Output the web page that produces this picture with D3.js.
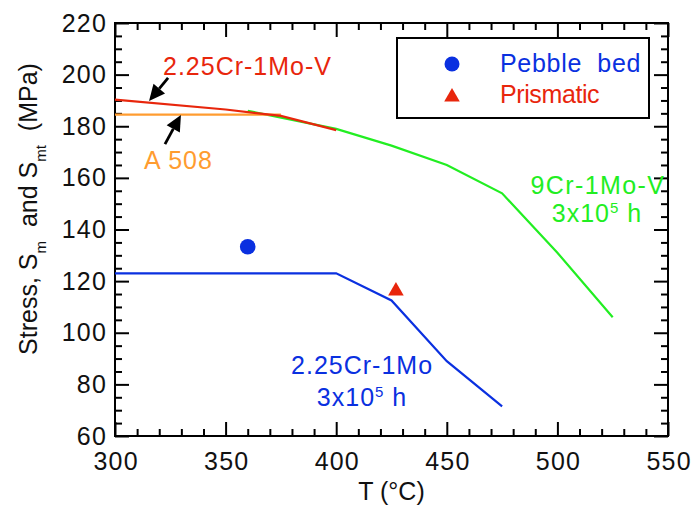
<!DOCTYPE html>
<html><head><meta charset="utf-8">
<script src="https://cdn.jsdelivr.net/npm/d3@7"></script>
<style>body{margin:0;background:#fff}svg{display:block;font-family:"Liberation Sans",Arial,sans-serif}</style>
</head><body>
<svg id="c" width="691" height="510"></svg>
<script>
// ---- data ----
const xTickValues = [300, 350, 400, 450, 500, 550];
const yTickValues = [60, 80, 100, 120, 140, 160, 180, 200, 220];
const cr1moT = [300, 400, 425, 450, 475];
const cr1moS = [123, 123, 112.5, 89, 71.5];
const cr1moVT = [300, 350, 375, 400];
const cr1moVS = [190.3, 186.5, 184, 178.5];
const cr9T = [360, 400, 425, 450, 475, 500, 525];
const cr9S = [186, 179, 172.5, 165, 154, 131, 106];
const a508T = [300, 375];
const a508S = [184.5, 184.5];
const pebbleT = [360];
const pebbleS = [133.3];
const prismT = [427];
const prismS = [116.6];

const BLUE = "#0a30e0", RED = "#e8260c", GREEN = "#22ee22", ORANGE = "#ff9c30";
const FS = 25;

const svg = d3.select("#c");
const L = 115, R = 668, T = 23, B = 436;
const x = d3.scaleLinear().domain([300, 550]).range([L, R]);
const y = d3.scaleLinear().domain([60, 220]).range([B, T]);

// axes with inward ticks (all four sides)
const xMinor = d3.range(300, 551, 10).filter(v => v % 50 !== 0);
const yMinor = d3.range(60, 221, 5).filter(v => v % 20 !== 0);
const g = svg.append("g");
function addAxis(axisFn, scale, transform, major, minor, showLabels) {
  const a1 = g.append("g").attr("transform", transform)
    .call(axisFn(scale).tickValues(minor).tickSize(-7).tickFormat(""));
  const a2 = g.append("g").attr("transform", transform)
    .call(axisFn(scale).tickValues(major).tickSize(-14).tickPadding(showLabels ? 20 : 0)
      .tickFormat(showLabels ? d3.format("d") : ""));
  [a1, a2].forEach(a => {
    a.select(".domain").remove();
    a.selectAll(".tick line").attr("stroke", "#000").attr("stroke-width", 2);
    a.selectAll("text").attr("font-size", FS).attr("fill", "#111")
      .attr("letter-spacing", 1.2)
      .attr("font-family", "'Liberation Sans',Arial,sans-serif");
  });
  return a2;
}
const ax = addAxis(d3.axisBottom, x, `translate(0,${B})`, xTickValues, xMinor, true);
ax.selectAll("text").attr("dy", "0.71em").attr("y", 16).attr("dx", 0.6);
addAxis(d3.axisTop, x, `translate(0,${T})`, xTickValues, xMinor, false);
const ay = addAxis(d3.axisLeft, y, `translate(${L},0)`, yTickValues, yMinor, true);
ay.selectAll("text").attr("x", -8);
addAxis(d3.axisRight, y, `translate(${R},0)`, yTickValues, yMinor, false);
g.append("rect").attr("x", L).attr("y", T).attr("width", R - L).attr("height", B - T)
  .attr("fill", "none").attr("stroke", "#000").attr("stroke-width", 2);

// lines
const line = d3.line().x(d => x(d[0])).y(d => y(d[1]));
function drawLine(ts, ss, color) {
  svg.append("path").datum(ts.map((t, i) => [t, ss[i]])).attr("d", line)
    .attr("fill", "none").attr("stroke", color).attr("stroke-width", 2.2);
}
drawLine(cr9T, cr9S, GREEN);
drawLine(a508T, a508S, ORANGE);
drawLine(cr1moVT, cr1moVS, RED);
drawLine(cr1moT, cr1moS, BLUE);

// points
svg.selectAll("circle.pb").data(pebbleT).enter().append("circle")
  .attr("cx", d => x(d)).attr("cy", (d, i) => y(pebbleS[i])).attr("r", 7.8).attr("fill", BLUE);
const tri = d3.symbol().type(d3.symbolTriangle).size(105);
svg.selectAll("path.pr").data(prismT).enter().append("path")
  .attr("d", tri).attr("fill", RED)
  .attr("transform", (d, i) => `translate(${x(d)},${y(prismS[i]) + 1})`);

// annotations
function txt(tx, ty, str, color, anchor, ls) {
  return svg.append("text").attr("x", x(tx)).attr("y", y(ty)).attr("fill", color)
    .attr("font-size", FS).attr("letter-spacing", ls)
    .attr("text-anchor", anchor || "start").text(str);
}
txt(321.7, 199.9, "2.25Cr-1Mo-V", RED, "start", 1);
txt(313.1, 163.4, "A 508", ORANGE, "start", 1);
txt(411.7, 84, "2.25Cr-1Mo", BLUE, "middle", 1);
txt(518.3, 153.7, "9Cr-1Mo-V", GREEN, "middle", 1.4);
function supLabel(tx, ty, color) {
  const t = svg.append("text").attr("x", x(tx)).attr("y", y(ty)).attr("fill", color)
    .attr("font-size", FS).attr("letter-spacing", 1).attr("text-anchor", "middle");
  t.append("tspan").text("3x10");
  t.append("tspan").attr("font-size", 15).attr("dy", -9).text("5");
  t.append("tspan").attr("dy", 9).text(" h");
}
supLabel(411.7, 71.7, BLUE);
supLabel(517.9, 143.0, GREEN);

// arrows
function arrow(t0, s0, t1, s1) {
  const x0 = x(t0), y0 = y(s0), x1 = x(t1), y1 = y(s1);
  const ang = Math.atan2(y1 - y0, x1 - x0);
  const hl = 16, hw = 7.5;
  const bx = x1 - hl * Math.cos(ang), by = y1 - hl * Math.sin(ang);
  svg.append("line").attr("x1", x0).attr("y1", y0).attr("x2", bx).attr("y2", by)
    .attr("stroke", "#000").attr("stroke-width", 2.8);
  const px = -Math.sin(ang) * hw, py = Math.cos(ang) * hw;
  svg.append("path").attr("d", `M${x1},${y1}L${bx + px},${by + py}L${bx - px},${by - py}Z`)
    .attr("fill", "#000");
}
arrow(324, 198.7, 315.4, 189.8);
arrow(322.6, 173.1, 329.8, 184.4);

// legend
const lg = svg.append("g");
lg.append("rect").attr("x", 397).attr("y", 38).attr("width", 252).attr("height", 80)
  .attr("fill", "#fff").attr("stroke", "#000").attr("stroke-width", 2);
lg.append("circle").attr("cx", 452).attr("cy", 64).attr("r", 7.5).attr("fill", BLUE);
lg.append("path").attr("d", tri).attr("fill", RED).attr("transform", "translate(452,97)");
lg.append("text").attr("x", 500).attr("y", 72).attr("fill", BLUE).attr("font-size", FS)
  .attr("letter-spacing", 0.7).style("white-space", "pre").text("Pebble  bed");
lg.append("text").attr("x", 500).attr("y", 103).attr("fill", RED).attr("font-size", FS)
  .attr("letter-spacing", -0.4).text("Prismatic");

// axis titles
svg.append("text").attr("x", (L + R) / 2).attr("y", 500).attr("text-anchor", "middle")
  .attr("font-size", FS).attr("fill", "#111").text("T (°C)");
const yl = svg.append("text").attr("transform", "translate(37,209) rotate(-90)")
  .attr("text-anchor", "middle").attr("font-size", FS).attr("fill", "#111")
  .style("white-space", "pre");
yl.append("tspan").text("Stress, S");
yl.append("tspan").attr("font-size", 15).attr("dy", 9).text("m");
yl.append("tspan").attr("dy", -9).text("  and S");
yl.append("tspan").attr("font-size", 15).attr("dy", 9).text("mt");
yl.append("tspan").attr("dy", -9).text("  (MPa)");
</script>
</body></html>
